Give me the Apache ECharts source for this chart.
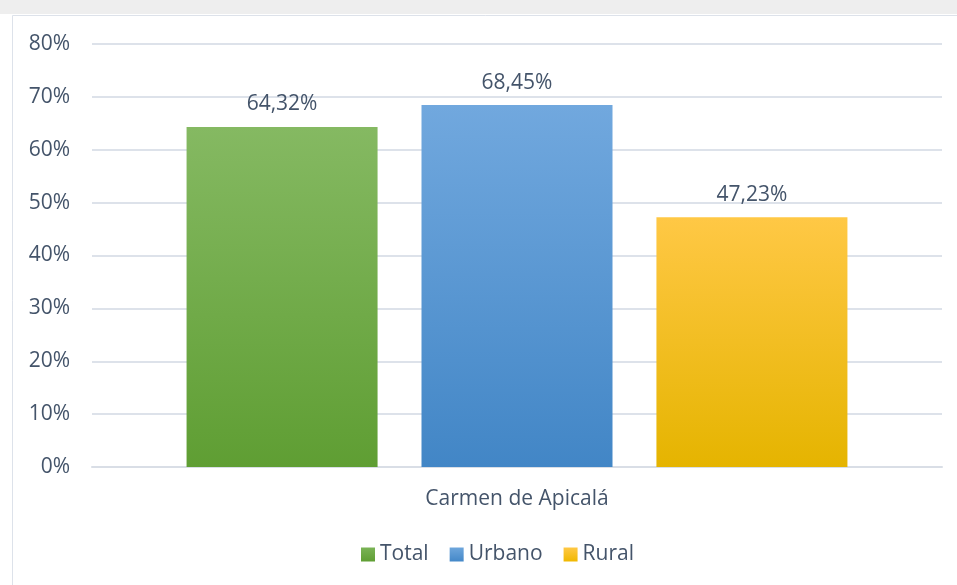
<!DOCTYPE html>
<html>
<head>
<meta charset="utf-8">
<script src="https://cdn.jsdelivr.net/npm/echarts@6/dist/echarts.min.js"></script>
<style>
  html, body { margin: 0; padding: 0; background: #fff; }
  #chart { width: 957px; height: 585px; }
</style>
</head>
<body>
<div id="chart"></div>
<script>
const categories = ['Carmen de Apicalá']
const seriesNames = ['Total', 'Urbano', 'Rural']
const totalValues = [64.32]
const urbanoValues = [68.45]
const ruralValues = [47.23]

const textColor = '#44546a'
const font = '"Open Sans", "Liberation Sans", sans-serif'

function grad(top, bottom) {
  return new echarts.graphic.LinearGradient(0, 0, 0, 1, [
    { offset: 0, color: top },
    { offset: 1, color: bottom }
  ])
}

function fmt(v) {
  return v.toFixed(2).replace('.', ',') + '%'
}

const colors = [
  grad('#85b962', '#5f9e33'),
  grad('#71a8de', '#4286c6'),
  grad('#ffc845', '#e5b400')
]
const legendColors = [
  grad('#7ab356', '#5f9e33'),
  grad('#6ea6dc', '#4488c8'),
  grad('#ffc845', '#f0b800')
]

const chart = echarts.init(document.getElementById('chart'))
chart.setOption({
  animation: false,
  textStyle: { fontFamily: font },
  graphic: [
    {
      type: 'rect',
      shape: { x: 0, y: 0, width: 957, height: 14 },
      style: { fill: '#eeeeee' },
      silent: true
    },
    {
      type: 'rect',
      shape: { x: 12.5, y: 15.5, width: 960, height: 600 },
      style: { fill: '#fff', stroke: '#dde2ea', lineWidth: 1 },
      silent: true,
      z: -1
    }
  ],
  grid: {
    left: 92,
    right: 15,
    top: 44,
    bottom: 118,
    containLabel: false
  },
  legend: {
    left: 356,
    top: 539,
    itemWidth: 14,
    itemHeight: 14,
    itemGap: 21,
    icon: 'rect',
    textStyle: { color: textColor, fontSize: 21, fontFamily: font },
    data: seriesNames.map((n, i) => ({ name: n, itemStyle: { color: legendColors[i] } }))
  },
  xAxis: {
    type: 'category',
    data: categories,
    axisLine: { show: true, lineStyle: { color: '#d9dee6', width: 2 } },
    axisTick: { show: false },
    axisLabel: { color: textColor, fontSize: 21, margin: 22, fontFamily: font }
  },
  yAxis: {
    type: 'value',
    min: 0,
    max: 80,
    interval: 10,
    axisLine: { show: false },
    axisTick: { show: false },
    axisLabel: {
      color: textColor,
      fontSize: 21,
      margin: 22,
      fontFamily: font,
      formatter: v => v + '%'
    },
    splitLine: { lineStyle: { color: '#dde2ea', width: 2 } }
  },
  series: [
    { name: 'Total', data: totalValues, color: colors[0] },
    { name: 'Urbano', data: urbanoValues, color: colors[1] },
    { name: 'Rural', data: ruralValues, color: colors[2] }
  ].map(s => ({
    name: s.name,
    type: 'bar',
    data: s.data,
    barWidth: 191,
    barGap: '23%',
    itemStyle: { color: s.color },
    label: {
      show: true,
      position: 'top',
      distance: 12,
      color: textColor,
      fontSize: 21,
      fontFamily: font,
      formatter: p => fmt(p.value)
    }
  }))
})
</script>
</body>
</html>
